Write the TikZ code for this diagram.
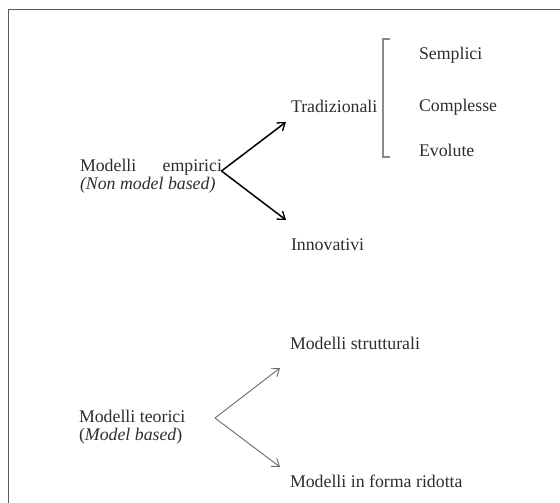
\documentclass[tikz,border=0pt]{standalone}
\usepackage{fontspec}
\setmainfont{Liberation Serif}
\usetikzlibrary{arrows.meta}
\definecolor{inkgray}{HTML}{2E2E2E}
\definecolor{framegray}{HTML}{5A5A5A}
\definecolor{bracegray}{HTML}{8A8A8A}
\definecolor{thingray}{HTML}{6A6A6A}
\begin{document}
\begin{tikzpicture}[x=1pt,y=-1pt,
  lbl/.style={anchor=base west,inner sep=0pt,outer sep=0pt,text=inkgray,
    font=\fontsize{17.8}{20}\selectfont},
  boldarrow/.style={draw=black,line width=1.5pt,-{Straight Barb[length=7pt,width=10pt,line width=1.3pt]}},
  thinarrow/.style={draw=thingray,line width=0.9pt,-{Straight Barb[length=7pt,width=10pt,line width=0.9pt]}},
]
\useasboundingbox (0,0) rectangle (560,503);
\fill[white] (0,0) rectangle (560,503);

% frame (only its top and left sides fall inside the page)
\draw[framegray,line width=1.8pt] (8.5,503) -- (8.5,9.5) -- (560,9.5);

% empirical models
\node[lbl] (emp) at (80,171) {\makebox[142pt][s]{Modelli empirici}};
\node[lbl] (empsub) at (80,189.5) {\itshape (Non model based)};
\node[lbl] (trad) at (291,113) {Tradizionali};
\node[lbl] (inno) at (291,250) {Innovativi};

\coordinate (empo) at ([xshift=-0.5pt,yshift=0pt]emp.base east);
\coordinate (tradtip) at ([xshift=-5pt,yshift=-9pt]trad.base west);
\coordinate (innotip) at ([xshift=-5pt,yshift=30pt]inno.base west);
\draw[boldarrow] (empo) -- (tradtip);
\draw[boldarrow] (empo) -- (innotip);

% traditional sub-types
\node[lbl] (semp) at (419,60) {Semplici};
\node[lbl] (comp) at (419,111) {Complesse};
\node[lbl] (evol) at (419,157) {Evolute};
\draw[bracegray,line width=1.2pt] (390,39) -- (383,39) -- (383,157) -- (390,157);

% theoretical models
\node[lbl] (teo) at (79,422) {Modelli teorici};
\node[lbl] (teosub) at (79,440.5) {(\textit{Model based})};
\node[lbl] (strut) at (290,349) {Modelli strutturali};
\node[lbl] (rid) at (290,487) {Modelli in forma ridotta};

\coordinate (teoo) at (215,418);
\coordinate (struttip) at ([xshift=-10pt,yshift=-19pt]strut.base west);
\coordinate (ridtip) at ([xshift=-10pt,yshift=20pt]rid.base west);
\draw[thinarrow] (teoo) -- (struttip);
\draw[thinarrow] (teoo) -- (ridtip);
\end{tikzpicture}
\end{document}
